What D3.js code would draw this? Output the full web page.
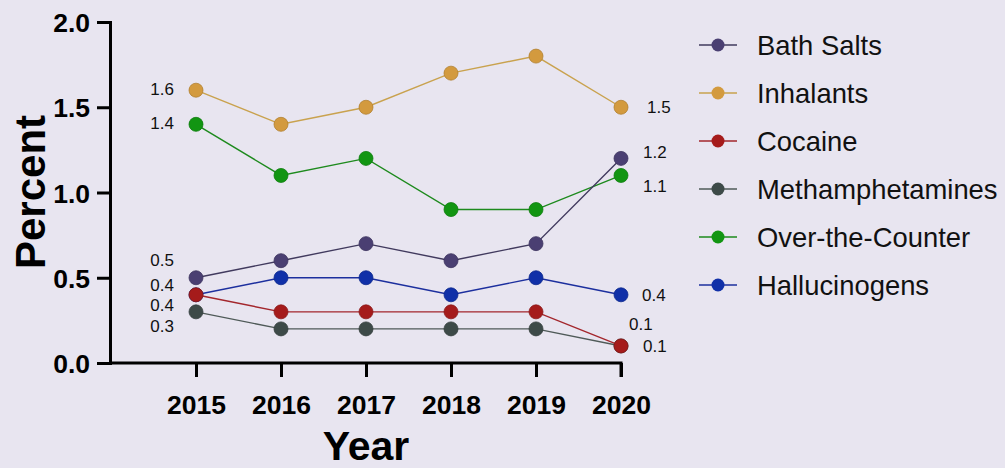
<!DOCTYPE html>
<html><head><meta charset="utf-8">
<script src="https://cdn.jsdelivr.net/npm/d3@7"></script>
<style>
html,body{margin:0;padding:0;background:#e8e5f0;}
svg{display:block;font-family:"Liberation Sans",Arial,sans-serif;}
</style></head>
<body><svg id="c" width="1005" height="468"></svg>
<script>
const years = [2015, 2016, 2017, 2018, 2019, 2020];
const seriesNames = ["Bath Salts", "Inhalants", "Cocaine", "Methamphetamines", "Over-the-Counter", "Hallucinogens"];
const bathSalts = [0.5, 0.6, 0.7, 0.6, 0.7, 1.2];
const inhalants = [1.6, 1.4, 1.5, 1.7, 1.8, 1.5];
const cocaine = [0.4, 0.3, 0.3, 0.3, 0.3, 0.1];
const meth = [0.3, 0.2, 0.2, 0.2, 0.2, 0.1];
const otc = [1.4, 1.1, 1.2, 0.9, 0.9, 1.1];
const hallucinogens = [0.4, 0.5, 0.5, 0.4, 0.5, 0.4];
const yTicks = [0.0, 0.5, 1.0, 1.5, 2.0];

const dotColors = ["#4a3f72", "#d39a3e", "#a51b1b", "#3d4a48", "#129512", "#1030a8"];
const lineColors = ["#413a5e", "#c9a24e", "#a3262c", "#4f5a58", "#1d8a1d", "#1c2f9e"];
// label offsets [dx, dy] for first and last point
const firstOff = [[-22,-18],[-22,-1],[-22,10],[-22,14],[-22,-1],[-22,-10]];
const lastOff = [[22,-7],[26,0],[22,0],[8,-22],[22,10],[21,0]];
const values = [bathSalts, inhalants, cocaine, meth, otc, hallucinogens];
const drawOrder = [1, 4, 0, 5, 3, 2];

const svg = d3.select("#c");
const x = d3.scalePoint().domain(years).range([196, 621]);
const y = d3.scaleLinear().domain([0, 2]).range([363, 22]);

// axes
const yAxis = svg.append("g").attr("transform", "translate(110,0)")
  .call(d3.axisLeft(y).tickValues(yTicks).tickFormat(d3.format(".1f")).tickSize(13).tickPadding(7));
const xAxis = svg.append("g").attr("transform", "translate(0,363)")
  .call(d3.axisBottom(x).tickSize(14).tickPadding(12));
xAxis.select(".domain").attr("d", "M110,0H621V14");
[yAxis, xAxis].forEach(g => {
  g.selectAll(".domain").attr("stroke", "#000").attr("stroke-width", 3).attr("fill", "none");
  g.selectAll(".tick line").attr("stroke", "#000").attr("stroke-width", 3);
  g.selectAll(".tick text").attr("fill", "#000").attr("font-size", 26.5).attr("font-weight", "bold")
    .attr("font-family", "'Liberation Sans',Arial,sans-serif");
});
xAxis.selectAll(".tick text").attr("dy", "0.95em");
yAxis.selectAll(".tick text").attr("dy", "0.36em");

svg.append("text").attr("transform", "translate(45,192) rotate(-90)")
  .attr("text-anchor", "middle").attr("font-size", 42).attr("font-weight", "bold").text("Percent");
svg.append("text").attr("x", 366).attr("y", 460)
  .attr("text-anchor", "middle").attr("font-size", 41).attr("font-weight", "bold").text("Year");

const line = d3.line().x((d, i) => x(years[i])).y(d => y(d));
drawOrder.forEach(s => {
  const g = svg.append("g");
  g.append("path").datum(values[s]).attr("d", line).attr("fill", "none")
    .attr("stroke", lineColors[s]).attr("stroke-width", 1.4);
  g.selectAll("circle").data(values[s]).join("circle")
    .attr("cx", (d, i) => x(years[i])).attr("cy", d => y(d)).attr("r", 7)
    .attr("fill", dotColors[s]).attr("stroke", d3.color(dotColors[s]).darker(0.5)).attr("stroke-width", 0.8);
});
// value labels
values.forEach((v, s) => {
  const n = v.length - 1;
  svg.append("text").attr("x", x(years[0]) + firstOff[s][0]).attr("y", y(v[0]) + firstOff[s][1])
    .attr("dy", "0.36em").attr("text-anchor", "end").attr("font-size", 17).attr("fill", "#111")
    .text(d3.format(".1f")(v[0]));
  svg.append("text").attr("x", x(years[n]) + lastOff[s][0]).attr("y", y(v[n]) + lastOff[s][1])
    .attr("dy", "0.36em").attr("text-anchor", "start").attr("font-size", 17).attr("fill", "#111")
    .text(d3.format(".1f")(v[n]));
});

// legend
const leg = svg.append("g");
seriesNames.forEach((name, s) => {
  const ly = 45 + s * 48;
  leg.append("line").attr("x1", 699).attr("x2", 737).attr("y1", ly).attr("y2", ly)
    .attr("stroke", lineColors[s]).attr("stroke-width", 1.4);
  leg.append("circle").attr("cx", 718).attr("cy", ly).attr("r", 6.5).attr("fill", dotColors[s]);
  leg.append("text").attr("x", 757).attr("y", ly).attr("dy", "0.36em")
    .attr("font-size", 27.4).attr("fill", "#111").text(name);
});
</script></body></html>
